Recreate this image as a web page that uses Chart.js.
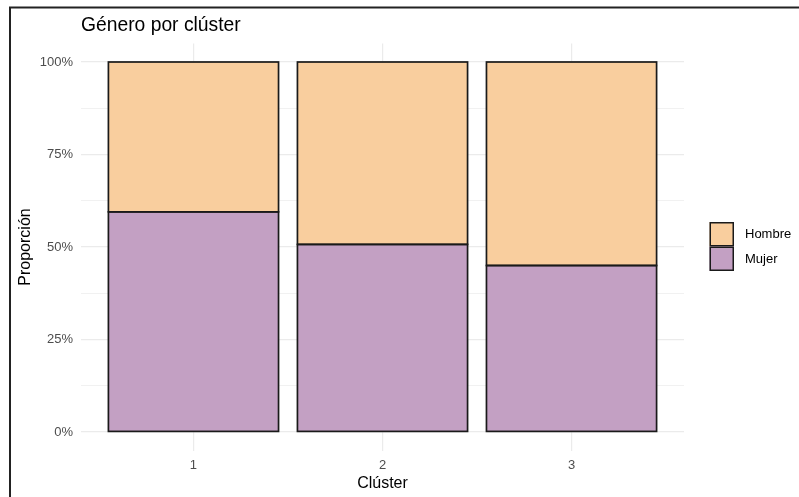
<!DOCTYPE html>
<html lang="es">
<head>
<meta charset="utf-8">
<title>Género por clúster</title>
<script src="https://cdn.jsdelivr.net/npm/chart.js@4/dist/chart.umd.min.js"></script>
<style>
  html, body { margin: 0; padding: 0; background: #ffffff; }
  #wrap { width: 799px; height: 497px; position: relative; }
</style>
</head>
<body>
<div id="wrap"><canvas id="chart" width="799" height="497"></canvas></div>
<script>
// Cluster categories and gender shares (percent of each cluster)
const clusters = ['1', '2', '3'];
const mujer = [59.5, 50.7, 45.0];
const hombre = [40.5, 49.3, 55.0];
const yTicks = [0, 12.5, 25, 37.5, 50, 62.5, 75, 87.5, 100];

const FONT = '"Liberation Sans", Arial, "DejaVu Sans", sans-serif';
const colHombre = 'rgb(249,206,158)';
const colMujer = 'rgb(195,160,195)';
const edge = '#1a1a1a';

// Bar outlines stroked centred on each segment's edge
const outlines = {
  id: 'outlines',
  afterDatasetsDraw(chart) {
    const ctx = chart.ctx;
    ctx.save();
    ctx.strokeStyle = edge;
    ctx.lineWidth = 1.7;
    chart.data.datasets.forEach((ds, di) => {
      chart.getDatasetMeta(di).data.forEach((el) => {
        const p = el.getProps(['x', 'y', 'base', 'width'], true);
        const top = Math.min(p.y, p.base);
        ctx.strokeRect(p.x - p.width / 2, top, p.width, Math.abs(p.base - p.y));
      });
    });
    ctx.restore();
  }
};

// Outer frame, plot title and the fill legend on the right
const decor = {
  id: 'decor',
  beforeDraw(chart) {
    const ctx = chart.ctx;
    ctx.save();
    ctx.strokeStyle = '#222222';
    ctx.lineWidth = 2;
    ctx.beginPath();
    ctx.moveTo(10, 497);
    ctx.lineTo(10, 7.5);
    ctx.lineTo(799, 7.5);
    ctx.stroke();
    ctx.restore();
  },
  afterDraw(chart) {
    const ctx = chart.ctx;
    const area = chart.chartArea;
    ctx.save();
    ctx.fillStyle = '#000000';
    ctx.font = '19.3px ' + FONT;
    ctx.textAlign = 'left';
    ctx.textBaseline = 'alphabetic';
    ctx.fillText('Género por clúster', area.left, 31);

    // legend: top stack entry first
    const items = chart.data.datasets.slice().reverse();
    const kx = 709.5, ky = 222, ks = 24.5;
    items.forEach((ds, i) => {
      const y = ky + i * ks;
      ctx.fillStyle = ds.backgroundColor;
      ctx.fillRect(kx, y, ks, ks);
      ctx.strokeStyle = edge;
      ctx.lineWidth = 1.5;
      ctx.strokeRect(kx + 0.75, y + 0.75, ks - 1.5, ks - 1.5);
      ctx.fillStyle = '#000000';
      ctx.font = '13px ' + FONT;
      ctx.textBaseline = 'middle';
      ctx.fillText(ds.label, 745, y + ks / 2 + 0.5);
    });
    ctx.restore();
  }
};

const gridColor = '#EBEBEB';

new Chart(document.getElementById('chart'), {
  type: 'bar',
  data: {
    datasets: [
      {
        label: 'Mujer',
        data: clusters.map((c, i) => ({ x: i + 1, y: mujer[i] })),
        backgroundColor: colMujer,
        borderWidth: 0
      },
      {
        label: 'Hombre',
        data: clusters.map((c, i) => ({ x: i + 1, y: hombre[i] })),
        backgroundColor: colHombre,
        borderWidth: 0
      }
    ]
  },
  options: {
    responsive: false,
    devicePixelRatio: 1,
    animation: false,
    categoryPercentage: 1.0,
    barPercentage: 0.9,
    layout: { padding: { left: 12, right: 115, top: 43.5, bottom: 0 } },
    plugins: {
      legend: { display: false },
      title: { display: false },
      tooltip: { enabled: false }
    },
    scales: {
      x: {
        type: 'linear',
        stacked: true,
        offset: false,
        min: 0.405,
        max: 3.595,
        afterBuildTicks(scale) {
          scale.ticks = clusters.map((c, i) => ({ value: i + 1 }));
        },
        afterFit(scale) { scale.height = 46.5; },
        grid: { color: gridColor, lineWidth: 1.2, drawTicks: false, offset: false },
        border: { display: false },
        ticks: {
          autoSkip: false,
          padding: 7,
          color: '#4D4D4D',
          font: { family: FONT, size: 13 },
          maxRotation: 0,
          callback: (v) => clusters[Math.round(v) - 1]
        },
        title: {
          display: true,
          text: 'Clúster',
          color: '#000000',
          font: { family: FONT, size: 16 },
          padding: { top: 0, bottom: 3.4 }
        }
      },
      y: {
        stacked: true,
        min: -5,
        max: 105,
        afterBuildTicks(scale) {
          scale.ticks = yTicks.map(v => ({ value: v }));
        },
        afterFit(scale) { scale.width = 69; },
        grid: {
          color: gridColor,
          drawTicks: false,
          lineWidth: (c) => (c.tick && c.tick.value % 25 === 0 ? 1.2 : 0.7)
        },
        border: { display: false },
        ticks: {
          autoSkip: false,
          padding: 8,
          color: '#4D4D4D',
          font: { family: FONT, size: 13 },
          callback: (v) => (v % 25 === 0 ? v + '%' : '')
        },
        title: {
          display: true,
          text: 'Proporción',
          color: '#000000',
          font: { family: FONT, size: 16 },
          padding: { top: 4, bottom: 0 }
        }
      }
    }
  },
  plugins: [outlines, decor]
});
</script>
</body>
</html>
